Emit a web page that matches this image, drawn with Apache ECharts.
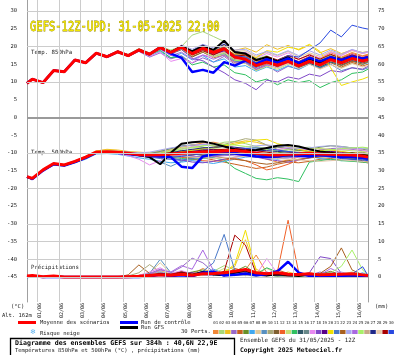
<!DOCTYPE html>
<html>
<head>
<meta charset="utf-8">
<script src="https://cdn.jsdelivr.net/npm/echarts@6/dist/echarts.min.js"></script>
<style>
body{margin:0;background:#fff}
#chart{width:395px;height:355px}
</style>
</head>
<body>
<div id="chart"></div>
<script>
// time steps (hours since 31/05 12Z)
var hours = [0,6,18,30,42,54,66,78,90,102,114,126,138,150,162,174,186,198,210,222,234,246,258,270,282,294,306,318,330,342,354,366,378,384];
var dayTicks = [12,36,60,84,108,132,156,180,204,228,252,276,300,324,348,372];
var leftTicks = [30,25,20,15,10,5,0,-5,-10,-15,-20,-25,-30,-35,-40,-45];
var rightTicks = [75,70,65,60,55,50,45,40,35,30,25,20,15,10,5,0];

// 850 hPa (°C)
var t850Mean = [9.6,10.8,9.8,13.2,12.9,16.2,15.4,18.1,17.1,18.5, 17.4,19.0,17.8,19.7,18.3,19.8,18.0,19.5,18.3,19.4, 17.0,16.4,14.6,15.6,14.7,15.8,14.5,15.8,14.8,16.3, 15.4,16.6,15.9,16.3];
var t850Ctrl = [9.6,10.8,9.8,13.2,12.9,16.2,15.4,18.1,17.1,18.5, 17.4,19.0,17.8,19.7,18.0,16.8,12.8,13.4,12.6,15.6, 14.6,16.0,15.0,16.4,15.4,16.6,15.4,16.8,15.8,17.0, 16.2,17.2,16.6,17.0];
var t850Gfs = [9.6,10.8,9.8,13.2,12.9,16.2,15.4,18.1,17.1,18.5, 17.4,19.0,17.8,19.8,18.4,20.0,18.6,20.0,19.0,21.6, 18.4,18.0,16.2,17.0,15.8,17.0,15.2,16.6,15.4,16.8, 15.6,16.8,16.0,16.4];
var t850Perts = [
[9.6,10.9,9.9,13.0,12.7,16.0,15.3,18.2,17.3,18.8, 17.6,19.3,18.0,19.5,18.6,20.2,18.5,19.9,18.8,20.4, 18.2,17.6,16.0,17.2,16.1,17.5,16.3,17.8,16.6,18.2, 17.0,18.3,17.4,17.8],
[9.5,10.7,9.7,13.1,12.8,16.3,15.5,18.0,17.2,18.6, 17.8,19.4,18.2,19.9,19.0,20.0,23.2,24.2,22.8,21.4, 18.6,18.2,16.5,17.4,15.8,16.9,15.2,16.4,14.3,15.5, 14.0,15.2,14.8,15.6],
[9.7,10.8,9.8,13.3,13.0,16.1,15.2,17.9,17.0,18.3, 17.1,18.8,17.5,19.4,18.0,19.6,17.8,19.7,18.6,20.1, 18.9,19.6,18.4,20.5,19.2,20.3,19.0,20.4,18.2,19.4, 18.0,19.0,18.3,18.6],
[9.6,10.8,9.8,13.2,12.9,16.2,15.4,18.1,17.0,18.4, 17.2,18.6,17.0,18.2,16.5,17.4,15.3,16.8,15.6,17.2, 15.0,15.6,13.4,14.6,12.8,14.4,13.6,15.2,14.6,16.4, 15.8,17.2,16.8,17.4],
[9.5,10.7,9.8,13.2,12.8,16.1,15.3,18.0,17.1,18.5, 17.5,19.1,17.9,19.8,18.3,19.5,17.2,18.4,16.8,17.6, 15.4,15.8,13.6,15.0,14.1,15.4,14.0,15.1,13.8,15.4, 14.2,15.5,14.5,15.0],
[9.6,10.9,9.9,13.2,12.9,16.2,15.4,18.2,17.2,18.6, 17.4,19.2,17.9,19.9,18.6,20.0,18.2,19.3,17.6,18.6, 16.4,16.8,15.1,16.3,15.2,16.4,15.0,16.4,15.4,16.8, 15.8,17.0,16.2,16.6],
[9.7,10.8,9.8,13.1,12.8,16.2,15.5,18.2,17.0,18.4, 17.3,18.9,17.2,18.6,16.8,18.1,16.2,17.4,15.6,16.5, 14.2,14.6,13.0,14.2,13.2,14.6,13.5,15.0,14.0,15.6, 14.6,16.0,15.0,15.4],
[9.6,10.8,9.8,13.2,12.9,16.1,15.4,18.0,17.1,18.5, 17.4,19.0,17.8,19.6,18.4,19.9,18.1,19.4,18.6,20.2, 18.6,18.8,17.2,18.4,17.4,18.6,17.0,18.2,17.2,18.6, 17.6,18.8,18.0,18.4],
[9.6,10.8,9.7,13.2,12.9,16.2,15.3,18.0,17.1,18.5, 17.4,19.0,17.8,19.8,18.4,20.0,18.4,19.8,18.7,19.8, 17.4,16.8,15.0,16.0,14.8,16.0,14.4,15.4,14.0,15.0, 13.2,14.0,13.4,14.0],
[9.5,10.8,9.8,13.1,12.8,16.1,15.3,18.0,17.2,18.6, 17.5,19.2,18.1,20.0,18.6,20.1,18.6,20.0,18.9,20.6, 18.4,17.8,16.2,17.0,15.4,16.3,14.6,15.6,14.5,16.0, 15.0,16.6,15.9,16.4],
[9.6,10.8,9.8,13.2,12.9,16.2,15.4,18.1,17.1,18.5, 17.4,19.0,17.7,19.5,17.9,19.1,17.0,18.4,17.2,18.4, 16.0,16.2,14.2,15.4,14.4,15.6,14.6,16.0,15.2,16.6, 15.6,16.4,15.4,15.8],
[9.6,10.9,9.8,13.3,13.0,16.3,15.5,18.2,17.3,18.7, 17.6,19.3,18.0,19.9,18.4,19.8,18.0,19.6,18.4,19.6, 17.4,17.4,15.4,16.4,15.6,16.8,15.8,17.2,16.2,17.6, 16.8,18.0,17.2,17.6],
[9.6,10.8,9.8,13.2,12.9,16.2,15.4,18.1,17.1,18.5, 17.4,19.0,17.8,19.7,18.2,19.6,17.6,18.6,17.0,17.8, 15.6,15.2,13.2,14.4,13.6,15.0,14.2,15.6,14.8,16.4, 15.4,16.8,16.0,16.4],
[9.6,10.8,9.8,13.2,12.9,16.2,15.4,18.1,17.1,18.5, 17.4,19.0,17.6,18.9,16.8,17.2,14.8,15.6,14.2,14.8, 12.6,12.0,10.0,10.8,9.2,10.6,9.8,10.4,8.4,9.8, 10.6,12.4,12.8,13.6],
[9.6,10.8,9.8,13.2,12.9,16.2,15.4,18.1,17.1,18.5, 17.4,19.0,17.8,19.7,18.4,19.9,18.2,19.6,18.3,19.0, 16.6,16.0,14.2,15.2,14.2,15.4,14.0,15.2,14.2,15.6, 14.8,16.0,15.4,15.8],
[9.6,10.8,9.8,13.2,12.9,16.2,15.4,18.1,17.1,18.5, 17.4,19.0,17.8,19.8,18.5,20.1,18.6,20.0,18.8,19.8, 17.6,17.2,15.4,16.6,15.6,16.8,15.4,16.6,15.6,17.0, 16.2,17.4,16.6,17.0],
[9.6,10.8,9.8,13.2,12.9,16.2,15.4,18.1,17.1,18.5, 17.4,18.8,17.2,18.4,15.8,16.6,15.4,17.6,17.0,18.8, 17.6,18.4,16.8,18.0,17.0,18.2,16.4,17.6,16.8,18.4, 17.4,19.0,18.0,18.4],
[9.6,10.8,9.8,13.2,12.9,16.2,15.4,18.1,17.1,18.5, 17.4,19.0,17.8,19.6,18.0,19.2,16.6,16.0,14.2,12.6, 10.6,9.6,7.8,10.5,10.0,11.4,10.8,12.2,11.6,13.2, 12.8,14.0,13.6,14.4],
[9.6,10.8,9.8,13.2,12.9,16.2,15.4,18.1,17.1,18.5, 17.4,19.0,17.8,19.6,18.2,19.6,17.8,19.2,17.8,18.8, 16.4,16.4,14.8,16.0,15.4,16.6,15.6,17.0,16.0,17.4, 16.4,17.6,16.6,16.8],
[9.6,10.8,9.8,13.2,12.9,16.2,15.4,18.1,17.1,18.5, 17.4,19.0,17.9,19.8,18.6,20.2,18.8,20.2,18.6,19.6, 17.8,18.0,16.8,18.8,18.4,19.8,19.2,20.6,18.6,14.0, 9.0,10.0,10.8,11.4],
[9.6,10.8,9.8,13.2,12.9,16.2,15.4,18.1,17.1,18.5, 17.4,19.0,17.8,19.7,18.3,19.7,17.8,19.0,17.4,18.0, 15.8,15.6,14.0,15.4,14.6,15.8,14.8,16.2,15.4,16.8, 15.6,16.6,15.8,16.2],
[9.6,10.8,9.8,13.2,12.9,16.2,15.4,18.1,17.1,18.5, 17.4,19.0,17.8,19.8,18.4,20.0,18.3,19.8,18.6,19.8, 17.6,17.6,15.8,16.6,15.4,16.4,15.0,16.2,15.0,16.0, 14.6,15.8,15.0,15.6],
[9.6,10.8,9.8,13.2,12.9,16.2,15.4,18.1,17.1,18.5, 17.4,19.1,17.9,19.8,18.4,20.4,19.2,20.6,19.6,20.8, 19.0,19.2,17.6,18.6,17.6,18.8,17.4,18.8,17.6,19.0, 17.8,19.2,18.2,18.6],
[9.6,10.8,9.8,13.2,12.9,16.2,15.4,18.1,17.1,18.5, 17.4,19.0,17.6,19.2,17.4,18.4,16.4,17.6,16.4,17.6, 15.6,15.4,13.6,14.8,14.0,15.4,14.4,16.0,15.6,17.2, 16.4,17.8,16.8,17.2],
[9.6,10.8,9.8,13.2,12.9,16.2,15.4,18.1,17.1,18.5, 17.4,19.0,17.8,19.6,18.2,19.4,17.6,18.8,17.2,18.2, 16.0,16.2,14.6,15.8,15.2,16.6,15.6,17.0,16.2,17.4, 16.8,17.4,16.2,16.8],
[9.6,10.8,9.8,13.2,12.9,16.2,15.4,18.1,17.1,18.5, 17.4,19.0,17.8,19.7,18.3,19.8,18.0,19.4,18.0,19.2, 16.8,16.6,14.8,15.8,14.8,16.0,14.6,15.8,14.6,16.0, 15.2,16.4,15.6,16.0],
[9.6,10.8,9.8,13.2,12.9,16.2,15.4,18.1,17.1,18.5, 17.4,19.0,17.8,19.8,18.5,20.2,18.8,20.4,19.0,20.6, 18.6,18.0,16.2,17.0,15.6,16.6,15.2,16.8,15.8,17.2, 16.2,17.2,16.4,16.8],
[9.6,10.8,9.8,13.2,12.9,16.2,15.4,18.1,17.1,18.5, 17.4,19.0,17.8,19.7,18.2,19.6,17.6,18.8,17.4,18.4, 16.4,16.2,14.4,15.2,14.0,15.2,13.8,15.0,13.6,14.8, 13.8,15.2,14.2,14.6],
[9.6,10.8,9.8,13.2,12.9,16.2,15.4,18.1,17.1,18.5, 17.4,19.0,17.8,19.7,18.3,19.6,17.6,18.8,17.6,19.2, 17.2,17.6,16.0,17.2,16.2,17.4,16.4,17.6,16.4,17.8, 16.6,17.6,16.8,17.2],
[9.6,10.8,9.8,13.2,12.9,16.2,15.4,18.1,17.1,18.5, 17.4,19.0,17.8,19.8,18.4,20.0,18.2,19.6,18.4,19.6, 17.4,17.0,15.4,16.6,16.0,17.4,17.0,19.0,21.0,24.6, 22.7,26.0,25.2,24.9]
];

// 500 hPa (°C)
var t500Mean = [-16.7,-17.2,-14.8,-13.0,-13.4,-12.4,-11.2,-9.8,-9.7,-9.8, -10.1,-10.5,-10.6,-10.5,-10.3,-10.1,-10.0,-9.8,-9.7,-9.5, -9.3,-9.6,-10.1,-10.5,-10.6,-10.4,-10.3,-10.1,-10.3,-10.4, -10.5,-10.6,-10.9,-11.2];
var t500Ctrl = [-16.7,-17.4,-15.0,-13.2,-13.6,-12.6,-11.4,-9.9,-9.8,-10.0, -10.3,-10.7,-10.8,-11.0,-11.2,-13.9,-14.3,-11.0,-10.4,-10.0, -10.2,-10.6,-11.0,-11.2,-11.0,-10.6,-10.8,-11.0,-10.6,-10.8, -11.2,-11.0,-11.4,-11.6];
var t500Gfs = [-16.8,-17.3,-14.9,-13.1,-13.5,-12.5,-11.3,-9.9,-9.8,-9.9, -10.2,-10.6,-11.2,-13.2,-10.0,-7.4,-7.0,-6.8,-7.4,-8.2, -9.0,-9.4,-9.2,-8.6,-8.0,-7.8,-8.2,-9.0,-9.6,-10.0, -10.4,-10.2,-10.6,-10.8];
var t500Perts = [
[-16.7,-17.1,-14.6,-13.0,-13.2,-12.2,-11.0,-9.4,-9.2,-9.6, -10.0,-10.4,-10.2,-9.8,-9.2,-8.4,-7.8,-7.2,-7.0,-7.6, -8.6,-9.8,-10.4,-11.8,-12.6,-12.0,-11.2,-10.2,-9.6,-9.4, -9.8,-10.4,-10.8,-11.0],
[-16.8,-17.3,-14.9,-13.3,-13.5,-12.5,-11.3,-9.6,-9.4,-9.6, -10.2,-10.6,-10.4,-10.0,-9.4,-8.8,-8.6,-8.0,-7.8,-7.0, -6.8,-7.4,-8.2,-8.8,-9.4,-9.0,-8.6,-8.4,-8.8,-9.2, -9.0,-8.8,-8.6,-8.8],
[-16.7,-17.2,-14.8,-13.2,-13.3,-12.3,-11.2,-9.5,-9.0,-9.2, -9.6,-9.8,-10.0,-9.4,-8.8,-8.2,-7.8,-7.6,-7.8,-8.0, -7.2,-6.6,-7.0,-7.8,-8.4,-8.8,-9.4,-9.6,-9.2,-9.8, -10.2,-10.0,-9.8,-10.2],
[-16.6,-17.1,-14.7,-13.1,-13.4,-12.5,-11.6,-10.0,-9.8,-10.0, -10.4,-10.8,-11.0,-11.4,-11.8,-12.2,-12.0,-11.6,-11.2,-10.4, -9.8,-9.6,-10.4,-11.0,-11.4,-10.8,-10.2,-9.6,-9.2,-8.8, -8.6,-9.0,-9.4,-9.6],
[-16.7,-17.2,-14.8,-13.2,-13.4,-12.4,-11.4,-9.9,-9.8,-9.9, -10.2,-10.6,-10.8,-11.2,-11.0,-10.6,-10.8,-11.4,-12.0,-12.6, -13.2,-13.8,-14.4,-14.0,-13.2,-12.6,-12.8,-12.4,-11.8,-11.6, -12.0,-12.2,-12.6,-12.8],
[-16.7,-17.2,-14.8,-13.2,-13.4,-12.4,-11.4,-9.8,-9.6,-9.7, -10.0,-10.3,-10.4,-10.2,-9.8,-9.4,-9.2,-9.0,-8.6,-8.2, -8.6,-9.2,-10.0,-10.4,-10.0,-9.6,-9.4,-9.0,-8.4,-8.0, -8.2,-8.6,-9.0,-9.2],
[-16.8,-17.3,-15.0,-13.5,-13.7,-12.8,-11.8,-10.3,-10.2,-10.4, -10.9,-11.4,-11.8,-12.4,-12.8,-12.6,-12.2,-12.6,-13.0,-12.4, -11.8,-11.2,-11.0,-11.4,-11.8,-11.2,-10.8,-11.0,-11.6,-12.0, -12.2,-12.0,-12.4,-12.6],
[-16.7,-17.2,-14.8,-13.2,-13.4,-12.4,-11.4,-9.8,-9.7,-9.8, -10.1,-10.4,-10.5,-10.4,-10.2,-10.0,-9.8,-9.6,-9.4,-9.2, -9.0,-9.4,-9.8,-10.2,-10.4,-10.2,-10.0,-9.8,-10.0,-10.2, -10.4,-10.4,-10.6,-10.8],
[-16.7,-17.2,-14.8,-13.2,-13.4,-12.4,-11.4,-9.8,-9.8,-10.0, -10.4,-10.8,-11.4,-12.6,-13.8,-12.4,-11.2,-10.8,-10.4,-10.0, -9.8,-10.0,-10.6,-11.2,-11.6,-11.4,-11.0,-10.8,-11.0,-11.2, -11.4,-11.6,-11.8,-12.0],
[-16.7,-17.2,-14.8,-13.2,-13.4,-12.4,-11.4,-9.8,-9.7,-9.8, -10.1,-10.5,-10.6,-10.4,-10.0,-9.6,-9.2,-8.8,-8.4,-7.6, -6.8,-6.0,-6.4,-7.8,-9.0,-9.6,-10.0,-10.4,-10.8,-10.6, -10.2,-10.0,-10.4,-10.6],
[-16.7,-17.2,-14.8,-13.2,-13.4,-12.4,-11.4,-9.8,-9.7,-9.8, -10.1,-10.5,-10.6,-10.8,-11.0,-11.2,-11.4,-11.2,-10.8,-10.6, -10.4,-10.2,-10.6,-11.0,-11.2,-11.0,-10.8,-10.6,-10.8,-11.0, -11.2,-11.0,-11.2,-11.4],
[-16.7,-17.2,-14.8,-13.2,-13.4,-12.4,-11.4,-9.8,-9.7,-9.8, -10.1,-10.5,-10.6,-10.6,-10.8,-11.2,-11.8,-12.2,-12.4,-12.0, -11.6,-12.2,-13.4,-14.8,-14.2,-13.2,-12.0,-11.4,-10.8,-10.6, -10.8,-11.0,-11.2,-11.4],
[-16.7,-17.2,-14.8,-13.2,-13.4,-12.4,-11.4,-9.8,-9.6,-9.6, -9.8,-10.0,-10.0,-9.6,-9.0,-8.6,-8.4,-8.6,-8.8,-9.0, -9.2,-9.4,-9.6,-9.8,-9.6,-9.2,-8.8,-8.6,-8.8,-9.0, -9.2,-9.4,-9.6,-9.8],
[-16.7,-17.2,-14.8,-13.2,-13.4,-12.4,-11.4,-9.8,-9.7,-9.8, -10.1,-10.5,-10.6,-10.8,-11.2,-11.6,-11.8,-11.6,-11.4,-12.0, -14.4,-15.8,-17.2,-17.6,-17.0,-17.4,-18.1,-12.6,-12.2,-11.8, -12.2,-12.4,-12.6,-12.8],
[-16.7,-17.2,-14.8,-13.2,-13.4,-12.4,-11.4,-9.8,-9.7,-9.8, -10.1,-10.5,-10.6,-10.5,-10.4,-10.2,-10.4,-10.6,-10.4,-10.2, -10.0,-10.2,-10.4,-10.6,-10.4,-10.2,-10.4,-10.6,-10.8,-10.6, -10.4,-10.6,-10.8,-11.0],
[-16.7,-17.2,-14.8,-13.2,-13.4,-12.4,-11.4,-9.8,-9.6,-9.6, -9.8,-10.2,-10.2,-9.6,-8.8,-8.0,-7.8,-8.4,-9.2,-9.6, -10.0,-9.6,-9.2,-8.8,-8.4,-8.8,-9.2,-9.6,-9.8,-10.2, -10.4,-10.2,-10.0,-10.2],
[-16.7,-17.2,-14.8,-13.2,-13.4,-12.4,-11.4,-9.8,-9.8,-10.2, -10.8,-11.8,-13.4,-12.2,-10.4,-9.0,-8.2,-7.6,-7.4,-8.0, -8.6,-9.2,-9.6,-9.4,-9.0,-8.6,-8.8,-9.2,-9.6,-9.4, -9.0,-8.8,-9.2,-9.6],
[-16.7,-17.2,-14.8,-13.2,-13.4,-12.4,-11.4,-9.8,-9.7,-9.8, -10.1,-10.5,-10.6,-10.8,-11.4,-12.0,-12.6,-12.8,-12.4,-11.8, -11.2,-10.8,-11.2,-11.8,-12.2,-12.6,-12.0,-11.4,-11.0,-10.8, -11.0,-11.4,-11.8,-12.0],
[-16.7,-17.2,-14.8,-13.2,-13.4,-12.4,-11.4,-9.8,-9.7,-9.8, -10.1,-10.5,-10.6,-10.5,-10.2,-10.0,-9.6,-9.2,-9.0,-9.4, -9.8,-10.2,-10.6,-10.8,-11.0,-10.6,-10.2,-10.0,-9.8,-9.6, -9.8,-10.0,-10.4,-10.6],
[-16.7,-17.2,-14.8,-13.2,-13.4,-12.4,-11.4,-9.8,-9.7,-9.8, -10.1,-10.5,-10.6,-10.4,-10.0,-9.6,-9.2,-8.8,-8.4,-8.0, -7.6,-7.0,-6.4,-6.2,-7.4,-8.2,-9.0,-9.6,-9.4,-9.2, -9.6,-10.0,-10.4,-10.6],
[-16.7,-17.2,-14.8,-13.2,-13.4,-12.4,-11.4,-9.8,-9.8,-10.0, -10.4,-10.8,-11.2,-11.6,-11.8,-12.0,-11.6,-11.2,-10.8,-10.4, -10.2,-10.4,-10.8,-11.0,-10.8,-10.6,-10.4,-10.6,-10.8,-11.0, -11.2,-11.4,-11.6,-11.8],
[-16.7,-17.2,-14.8,-13.2,-13.4,-12.4,-11.4,-9.8,-9.7,-9.8, -10.1,-10.5,-10.6,-10.4,-10.2,-10.0,-10.2,-10.6,-11.0,-11.4, -11.8,-12.2,-12.8,-13.2,-12.8,-12.2,-11.8,-11.4,-11.2,-11.0, -11.4,-11.8,-12.2,-12.6],
[-16.7,-17.2,-14.8,-13.2,-13.4,-12.4,-11.4,-9.8,-9.6,-9.6, -9.8,-10.0,-9.8,-9.2,-8.6,-8.2,-7.8,-7.6,-7.8,-8.2, -8.6,-8.4,-8.0,-7.8,-8.0,-8.4,-8.8,-8.6,-8.2,-8.0, -8.2,-8.6,-8.8,-9.0],
[-16.7,-17.2,-14.8,-13.2,-13.4,-12.4,-11.4,-9.8,-9.7,-9.8, -10.1,-10.5,-10.6,-10.6,-10.6,-10.8,-11.0,-11.2,-11.0,-10.8, -10.6,-10.8,-11.2,-11.4,-11.6,-11.4,-11.2,-11.0,-10.8,-10.6, -10.8,-11.0,-11.2,-11.4],
[-16.7,-17.2,-14.8,-13.2,-13.4,-12.4,-11.4,-9.8,-9.7,-9.8, -10.1,-10.5,-10.6,-10.2,-9.6,-9.0,-8.4,-8.0,-7.8,-7.6, -7.8,-8.2,-8.6,-9.0,-9.4,-9.8,-10.2,-10.0,-9.6,-9.2, -8.8,-8.6,-8.4,-8.6],
[-16.7,-17.2,-14.8,-13.2,-13.4,-12.4,-11.4,-9.8,-9.7,-9.8, -10.1,-10.5,-10.6,-10.5,-10.3,-10.1,-10.0,-9.8,-9.7,-9.6, -9.6,-9.8,-10.2,-10.6,-10.8,-10.6,-10.4,-10.2,-10.4,-10.6, -10.8,-10.8,-11.0,-11.2],
[-16.7,-17.2,-14.8,-13.2,-13.4,-12.4,-11.4,-9.8,-9.7,-9.8, -10.1,-10.5,-10.6,-10.4,-10.0,-9.4,-9.0,-8.6,-8.4,-8.2, -8.4,-8.8,-9.2,-9.4,-9.6,-9.8,-10.0,-10.2,-10.6,-11.0, -11.2,-11.4,-11.6,-11.8],
[-16.7,-17.2,-14.8,-13.2,-13.4,-12.4,-11.4,-9.8,-9.7,-9.8, -10.1,-10.5,-10.6,-10.6,-10.8,-11.0,-11.2,-11.4,-11.6,-11.4, -11.2,-11.0,-11.2,-11.4,-11.6,-11.8,-12.0,-12.2,-12.4,-12.2, -12.0,-12.2,-12.4,-12.6],
[-16.7,-17.2,-14.8,-13.2,-13.4,-12.4,-11.4,-9.8,-9.7,-9.8, -10.1,-10.5,-10.6,-10.4,-10.0,-9.8,-9.6,-9.4,-9.2,-9.0, -8.8,-9.0,-9.4,-9.8,-10.2,-10.4,-10.6,-10.8,-10.6,-10.4, -10.2,-10.4,-10.6,-10.8],
[-16.7,-17.2,-14.8,-13.2,-13.4,-12.4,-11.4,-9.8,-9.7,-9.8, -10.1,-10.5,-10.6,-10.8,-11.2,-11.0,-10.6,-10.2,-10.0,-9.6, -9.2,-8.8,-8.6,-8.8,-9.2,-9.6,-10.0,-10.4,-10.8,-11.2, -11.6,-11.8,-12.0,-12.2]
];

// precipitation (mm)
var rrMean = [0.3,0.4,0.1,0.3,0,0,0,0,0,0, 0.1,0.2,0.4,0.6,0.5,0.8,0.5,0.9,1.0,1.2, 1.6,2.1,1.2,0.9,1.2,0.8,0.7,0.9,0.6,0.7, 0.8,0.9,0.6,0.4];
var rrCtrl = [0,0.2,0,0.1,0,0,0,0,0,0, 0,0,0.2,0.6,0.3,0.5,0.2,1.2,1.5,0.4, 0.6,1.0,0.5,0.8,1.6,4.3,1.2,0.3,0.2,0.4, 0.3,0.5,0.3,0.2];
var rrGfs = [0,0.3,0,0.2,0,0,0,0,0,0, 0,0.1,0.3,0.8,0.4,1.0,0.6,1.4,0.8,0.5, 1.2,1.8,0.6,0.4,0.8,0.5,0.3,0.6,0.4,0.3, 0.5,0.4,0.3,0.2];
var rrPerts = [
[0,0.4,0,0.2,0,0,0,0,0,0, 0,0.3,0.8,1.2,0.6,1.5,0.8,2.4,1.0,0.6, 1.4,2.0,6.2,1.2,0.4,0.8,0.3,1.0,0.5,0.2, 0.6,0.4,0.8,0.3],
[0,0.3,0,0.1,0,0,0,0,0,0, 0,0,0.4,0.9,0.3,0.6,0.2,0.8,1.6,3.2, 2.0,1.0,0.4,0.6,0.3,0.2,0.5,1.2,0.6,0.4, 0.8,1.4,0.6,0.3],
[0,0.2,0,0,0,0,0,0,0,0, 0,0.2,0.6,1.8,0.8,0.5,0.4,1.0,0.6,1.6, 3.0,10.5,2.2,0.8,0.5,1.4,0.6,0.3,0.8,0.5, 0.3,0.6,0.4,0.2],
[0,0.5,0,0.2,0,0,0,0,0,0, 0,0.4,1.0,2.2,1.2,2.8,5.3,4.0,1.4,0.8, 1.0,0.6,0.4,1.2,0.6,0.4,0.8,0.5,1.4,0.6, 0.3,0.5,0.8,0.4],
[0,0.2,0,0,0,0,0,0,0,0, 0,0.2,0.5,0.8,0.4,1.2,0.6,1.6,0.8,0.5, 2.4,1.6,0.6,0.4,2.0,1.0,0.5,0.6,0.3,0.8, 0.4,0.6,0.3,0.2],
[0,0.3,0,0.1,0,0,0,0,0,0, 0,0.3,0.4,1.0,0.5,0.8,1.4,2.0,0.8,0.4, 1.6,3.0,1.0,0.6,0.3,0.6,0.4,0.8,0.4,0.6, 1.0,0.5,0.3,0.2],
[0,0.2,0,0,0,0,0,0,0,0, 0,0.1,0.3,0.6,0.3,1.0,0.5,0.8,2.2,1.0, 0.6,0.4,0.8,0.4,1.0,0.6,0.3,0.5,0.8,0.4, 0.6,0.3,1.2,0.4],
[0,0.3,0,0.2,0,0,0,0,0,0, 0,0.5,1.2,4.0,1.0,0.6,0.8,1.2,0.6,0.4, 0.8,1.0,0.6,2.4,1.0,0.4,0.6,0.3,0.5,0.8, 0.4,0.6,0.3,0.2],
[0,0.2,0,0.1,0,0,0,0,0,0, 0,0.4,1.0,5.0,1.2,0.8,0.6,1.4,0.8,0.6, 1.2,0.8,0.4,0.6,0.3,0.5,0.8,0.4,0.6,0.3, 0.5,0.4,0.6,0.3],
[0,0.4,0,0.2,0,0,0,0,0,0, 0.3,1.2,3.5,1.4,0.6,1.0,0.5,0.8,1.2,0.6, 0.8,1.4,0.6,0.4,0.8,0.5,0.3,0.6,0.4,0.8, 0.5,0.3,0.6,0.2],
[0,0.2,0,0,0,0,0,0,0,0, 0,0.2,0.4,1.0,0.6,1.6,0.8,1.0,0.5,0.8, 1.2,0.6,0.4,0.8,0.5,0.3,0.6,0.4,0.8,1.6, 0.6,0.4,0.3,0.2],
[0,0.3,0,0.1,0,0,0,0,0,0, 0,0.2,0.6,1.2,0.8,0.5,1.0,0.6,0.8,1.2, 0.6,0.4,1.0,0.8,1.5,16.0,1.2,0.6,0.4,0.8, 0.5,0.6,0.4,0.2],
[0,0.2,0,0,0,0,0,0,0,0, 0,0.1,0.3,0.8,0.5,1.2,0.6,0.4,1.0,2.4, 1.0,0.6,0.8,0.4,0.6,0.3,0.8,0.5,0.4,0.6, 0.3,0.5,0.4,0.2],
[0,0.3,0,0.2,0,0,0,0,0,0, 0,0.2,0.5,1.0,0.4,0.8,0.6,1.2,0.8,0.6, 1.0,1.8,0.8,2.6,1.4,0.6,0.4,0.8,0.3,0.5, 0.6,0.4,0.3,0.2],
[0,0.2,0,0,0,0,0,0,0,0, 0,0.2,0.4,0.6,0.3,0.8,0.5,1.0,0.6,0.4, 0.8,0.5,0.3,0.6,0.4,0.3,0.6,1.0,0.5,0.3, 0.4,0.6,0.3,0.2],
[0,0.3,0,0.1,0,0,0,0,0,0, 0,0.3,0.6,1.4,0.8,0.6,1.0,0.8,1.6,0.8, 0.5,0.8,0.4,0.6,0.3,0.8,0.5,0.4,0.6,0.8, 0.4,0.3,0.5,0.2],
[0,0.4,0,0.2,0,0,0,0,0,0, 0,0.4,1.4,2.6,1.0,1.8,0.8,1.2,0.6,1.0, 0.8,1.2,0.6,5.2,1.0,0.5,0.8,0.4,0.6,1.0, 0.8,0.6,0.4,0.2],
[0,0.3,0,0.1,0,0,0,0,0,0, 0,0.2,0.5,0.8,0.6,1.2,0.6,0.8,0.5,0.6, 0.4,0.8,0.6,0.5,0.8,0.4,0.6,1.2,5.7,5.2, 1.0,0.6,0.4,0.2],
[0,0.2,0,0,0,0,0,0,0,0, 0,0.2,0.4,1.0,0.5,0.8,1.2,0.6,0.4,0.8, 1.6,0.8,0.5,0.4,0.6,0.3,0.5,0.4,0.8,1.2, 0.6,0.4,0.3,0.2],
[0,0.3,0,0.1,0,0,0,0,0,0, 0,0.2,0.4,0.8,0.6,1.0,0.8,1.4,0.6,1.2, 3.6,13.2,1.6,0.8,0.4,0.6,0.3,0.5,0.4,0.3, 0.6,0.4,0.3,0.2],
[0,0.2,0,0.1,0,0,0,0,0,0, 0,0.3,0.6,1.2,0.8,0.5,0.8,1.6,4.0,12.0, 1.8,0.8,0.5,0.6,0.4,0.8,0.5,0.3,0.6,0.4, 0.5,0.3,0.4,0.2],
[0,0.3,0,0.2,0,0,0,0,0,0, 0.6,3.4,1.0,0.8,0.5,1.0,0.6,0.8,0.5,0.4, 0.8,1.2,0.6,0.4,0.8,0.5,0.6,0.4,1.0,3.0, 8.2,2.0,0.6,0.3],
[0,0.2,0,0,0,0,0,0,0,0, 0,0.2,0.5,1.6,0.6,1.0,0.8,0.6,0.4,0.8, 0.6,0.4,0.8,0.6,0.4,0.3,0.5,0.8,0.4,0.6, 1.4,0.6,0.4,0.2],
[0,0.4,0,0.2,0,0,0,0,0,0, 0,0.3,0.8,2.0,1.4,3.2,2.2,7.6,1.8,0.8, 1.2,0.6,0.8,1.4,0.6,0.4,0.8,0.5,0.6,2.4, 1.0,0.6,0.4,0.2],
[0,0.2,0,0.1,0,0,0,0,0,0, 0,0.2,0.4,0.8,0.5,0.6,0.8,1.2,0.6,0.8, 1.0,0.6,0.4,0.6,0.3,0.5,0.4,0.6,0.8,1.2, 3.0,7.6,2.0,0.4],
[0,0.3,0,0.1,0,0,0,0,0,0, 0,0.2,0.6,1.2,0.6,0.8,0.5,1.0,0.6,0.4, 0.8,0.6,0.4,0.8,0.5,0.3,0.6,0.4,0.5,0.8, 0.6,0.4,0.3,0.2],
[0,0.2,0,0,0,0,0,0,0,0, 0,0.2,0.4,0.8,0.4,1.2,0.6,0.8,1.0,0.6, 0.4,0.8,0.6,0.4,0.6,0.8,0.4,0.6,0.8,0.5, 0.4,0.6,0.4,0.2],
[0,0.3,0,0.2,0,0,0,0,0,0, 0,0.2,0.5,1.0,0.6,0.8,0.4,0.6,0.8,1.0, 0.6,0.5,0.8,0.4,0.6,0.4,0.5,0.3,0.6,0.8, 0.5,1.2,0.4,0.2],
[0,0.2,0,0.1,0,0,0,0,0,0, 0,0.3,0.6,1.0,0.8,1.4,0.8,1.2,0.6,1.6, 11.8,9.0,1.0,0.6,0.4,0.8,0.5,0.4,0.6,0.5, 0.8,0.4,0.3,0.2],
[0,0.3,0,0.1,0,0,0,0,0,0, 0,0.2,0.4,0.8,0.5,1.0,0.6,0.8,0.6,0.4, 0.8,0.6,1.0,0.8,0.5,0.6,0.4,0.8,0.5,0.6, 0.4,0.8,2.9,0.4]
];

var pertColors = ['#f08838','#a8d878','#f0c020','#9868c8','#c86020','#689028','#40a8f0','#e0c898','#5890c0','#a8a878',
                  '#806030','#f06028','#c8e078','#30c060','#305868','#688888','#e888f0','#8048c8','#580088','#f0e000',
                  '#4878c8','#a86020','#a8a8f0','#a868e0','#a8f068','#c8a888','#202888','#e8c8a8','#a80000','#2848e0'];

function toPairs(vals) {
    var out = [];
    for (var i = 0; i < vals.length && i < hours.length; i++) {
        out.push([hours[i], vals[i]]);
    }
    return out;
}

function dateLabel(v) {
    var d = Math.round((v - 12) / 24) + 1;
    return (d < 10 ? '0' : '') + d + '/06';
}

// grid lines
var gridMarks = [];
for (var i = 0; i < dayTicks.length; i++) {
    gridMarks.push({xAxis: dayTicks[i], lineStyle: {color: '#cccccc', width: 1, type: 'solid'}});
}
[30, 20, 10, -10, -20, -30, -35, -40, -45].forEach(function (v) {
    gridMarks.push({yAxis: v, lineStyle: {color: '#cccccc', width: 1, type: 'solid'}});
});
gridMarks.push({yAxis: 0, lineStyle: {color: '#9a9a9a', width: 2, type: 'solid'}});

var series = [];
series.push({
    type: 'line', data: [], silent: true, z: 1,
    markLine: {silent: true, symbol: ['none', 'none'], label: {show: false}, animation: false, data: gridMarks}
});

function addGroup(perts, gfs, ctrl, mean, axisIdx) {
    for (var k = 0; k < perts.length; k++) {
        series.push({
            type: 'line', data: toPairs(perts[k]), yAxisIndex: axisIdx, symbol: 'none', silent: true, z: 2,
            lineStyle: {color: pertColors[k], width: 1}
        });
    }
    series.push({type: 'line', data: toPairs(gfs), yAxisIndex: axisIdx, symbol: 'none', silent: true, z: 3,
        lineStyle: {color: '#000000', width: 2}});
    series.push({type: 'line', data: toPairs(ctrl), yAxisIndex: axisIdx, symbol: 'none', silent: true, z: 3,
        lineStyle: {color: '#0000ff', width: 2.5}});
    series.push({type: 'line', data: toPairs(mean), yAxisIndex: axisIdx, symbol: 'none', silent: true, z: 4,
        lineStyle: {color: '#ff0000', width: 3}});
}
addGroup(t850Perts, t850Gfs, t850Ctrl, t850Mean, 0);
addGroup(t500Perts, t500Gfs, t500Ctrl, t500Mean, 0);
addGroup(rrPerts, rrGfs, rrCtrl, rrMean, 1);

var small = 'DejaVu Sans Mono';
var graphics = [
    {type: 'text', x: 30, y: 20, scaleY: 1.3, z: 10,
        style: {text: 'GEFS-12Z-UPD: 31-05-2025 22:00', fontFamily: small, fontSize: 10.5,
            fill: '#f2e600', stroke: '#8f8000', lineWidth: 0.6}},
    {type: 'text', x: 31, y: 50, style: {text: 'Temp. 850hPa', fontFamily: small, fontSize: 5.7, fill: '#222'}},
    {type: 'text', x: 31, y: 150, style: {text: 'Temp. 500hPa', fontFamily: small, fontSize: 5.7, fill: '#222'}},
    {type: 'text', x: 31, y: 265, style: {text: 'Précipitations', fontFamily: small, fontSize: 5.7, fill: '#222'}},
    {type: 'text', x: 11, y: 304, style: {text: '(°C)', fontFamily: small, fontSize: 5.5, fill: '#222'}},
    {type: 'text', x: 2, y: 313, style: {text: 'Alt. 162m', fontFamily: small, fontSize: 5.5, fill: '#222'}},
    {type: 'text', x: 375, y: 304, style: {text: '(mm)', fontFamily: small, fontSize: 5.5, fill: '#222'}},
    {type: 'line', shape: {x1: 18, y1: 322.5, x2: 36, y2: 322.5}, style: {stroke: '#ff0000', lineWidth: 3}},
    {type: 'text', x: 40, y: 320, style: {text: 'Moyenne des scénarios', fontFamily: small, fontSize: 5.5, fill: '#222'}},
    {type: 'line', shape: {x1: 120, y1: 322.5, x2: 138, y2: 322.5}, style: {stroke: '#0000ff', lineWidth: 3}},
    {type: 'text', x: 141, y: 320, style: {text: 'Run de contrôle', fontFamily: small, fontSize: 5.5, fill: '#222'}},
    {type: 'line', shape: {x1: 120, y1: 327.5, x2: 138, y2: 327.5}, style: {stroke: '#000000', lineWidth: 3}},
    {type: 'text', x: 141, y: 324.5, style: {text: 'Run GFS', fontFamily: small, fontSize: 5.5, fill: '#222'}},
    {type: 'text', x: 30, y: 329, style: {text: '❄', fontFamily: 'DejaVu Sans', fontSize: 7, fill: '#58b0f0'}},
    {type: 'text', x: 40, y: 330.5, style: {text: 'Risque neige', fontFamily: small, fontSize: 5.5, fill: '#222'}},
    {type: 'text', x: 181, y: 328.5, style: {text: '30 Perts.', fontFamily: small, fontSize: 5.5, fill: '#222'}},
    {type: 'rect', shape: {x: 10.5, y: 338.5, width: 224, height: 20}, style: {fill: '#fff', stroke: '#000', lineWidth: 1.3}},
    {type: 'text', x: 15, y: 340, z: 5, style: {text: 'Diagramme des ensembles GEFS sur 384h : 40,6N 22,9E', fontFamily: small, fontSize: 6.6, fontWeight: 'bold', fill: '#000'}},
    {type: 'text', x: 15, y: 347.5, z: 5, style: {text: 'Températures 850hPa et 500hPa (°C) , précipitations (mm)', fontFamily: small, fontSize: 5.5, fill: '#222'}},
    {type: 'text', x: 240, y: 337, style: {text: 'Ensemble GEFS du 31/05/2025 - 12Z', fontFamily: small, fontSize: 5.8, fill: '#222'}},
    {type: 'text', x: 240, y: 347, style: {text: 'Copyright 2025 Meteociel.fr', fontFamily: small, fontSize: 6.3, fontWeight: 'bold', fill: '#000'}}
];
for (var p = 0; p < pertColors.length; p++) {
    var px = 213 + p * 6.05;
    graphics.push({type: 'text', x: px + 0.3, y: 321, style: {text: (p < 9 ? '0' : '') + (p + 1), fontFamily: small, fontSize: 4, fill: '#222'}});
    graphics.push({type: 'rect', shape: {x: px, y: 330, width: 5.5, height: 4}, style: {fill: pertColors[p]}});
}

var chart = echarts.init(document.getElementById('chart'));
chart.setOption({
    animation: false,
    backgroundColor: '#ffffff',
    grid: {left: 27, right: 27, top: 0, bottom: 53},
    xAxis: {
        type: 'value', min: 0, max: 384,
        axisLine: {show: false}, axisTick: {show: false}, splitLine: {show: false},
        axisLabel: {customValues: dayTicks, formatter: dateLabel, rotate: 90, margin: 1, verticalAlign: 'top',
            fontFamily: small, fontSize: 5, color: '#222'}
    },
    yAxis: [
        {type: 'value', min: -52.05, max: 33.1, position: 'left',
            axisLine: {show: true, lineStyle: {color: '#a0a0a0', width: 1}},
            axisTick: {show: false}, splitLine: {show: false},
            axisLabel: {customValues: leftTicks, margin: 10, fontFamily: small, fontSize: 5.5, color: '#222'}},
        {type: 'value', min: -7.05, max: 78.1, position: 'right',
            axisLine: {show: true, lineStyle: {color: '#a0a0a0', width: 1}},
            axisTick: {show: false}, splitLine: {show: false},
            axisLabel: {customValues: rightTicks, margin: 10, fontFamily: small, fontSize: 5.5, color: '#222'}}
    ],
    graphic: graphics,
    series: series
});
</script>
</body>
</html>
